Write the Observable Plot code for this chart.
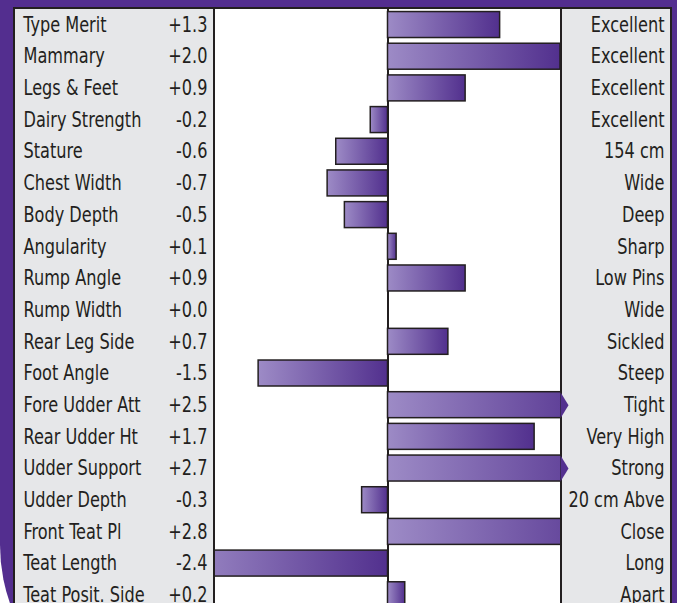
<!DOCTYPE html>
<html>
<head>
<meta charset="utf-8">
<script src="https://cdn.jsdelivr.net/npm/d3@7"></script>
<script src="https://cdn.jsdelivr.net/npm/@observablehq/plot@0.6"></script>
<style>
  html, body { margin: 0; padding: 0; background: #fff; }
  #wrap { position: relative; width: 677px; height: 603px; overflow: hidden; background: #fff; }
  .abs { position: absolute; box-sizing: border-box; }
  #purple { left: 0; top: 0; width: 677px; height: 720px; background: #532e8f; border-bottom-left-radius: 175px; }
  #panel { left: 13px; top: 7px; width: 659px; height: 700px; background: #e6e7e9; border: 2px solid #231f20; }
  #white { left: 213px; top: 7px; width: 349px; height: 700px; background: #fff; border-left: 2px solid #231f20; border-right: 2px solid #231f20; border-top: 2px solid #231f20; }
  #chart { left: 0; top: 0; }
</style>
</head>
<body>
<div id="wrap">
  <div id="purple" class="abs"></div>
  <div id="panel" class="abs"></div>
  <div id="white" class="abs"></div>
  <div id="chart" class="abs"></div>
</div>
<script>
const traits = ["Type Merit","Mammary","Legs & Feet","Dairy Strength","Stature","Chest Width","Body Depth","Angularity","Rump Angle","Rump Width","Rear Leg Side","Foot Angle","Fore Udder Att","Rear Udder Ht","Udder Support","Udder Depth","Front Teat Pl","Teat Length","Teat Posit. Side"];
const values = [1.3, 2.0, 0.9, -0.2, -0.6, -0.7, -0.5, 0.1, 0.9, 0.0, 0.7, -1.5, 2.5, 1.7, 2.7, -0.3, 2.8, -2.4, 0.2];
const descriptors = ["Excellent","Excellent","Excellent","Excellent","154 cm","Wide","Deep","Sharp","Low Pins","Wide","Sickled","Steep","Tight","Very High","Strong","20 cm Abve","Close","Long","Apart"];
const arrowTraits = ["Fore Udder Att", "Udder Support"];
const xDomain = [-2, 2];

const rows = traits.map((t, i) => ({trait: t, value: values[i], desc: descriptors[i]}));
const fmt = v => (v >= 0 ? "+" : "") + v.toFixed(1);

const font = "'DejaVu Sans Condensed', 'Liberation Sans Narrow', sans-serif";
const ink = "#231f20";

const defsMark = () => {
  const ns = "http://www.w3.org/2000/svg";
  const defs = document.createElementNS(ns, "defs");
  defs.innerHTML = '<linearGradient id="barGrad" x1="0" x2="1" y1="0" y2="0">' +
    '<stop offset="0" stop-color="#9d8bc6"/><stop offset="1" stop-color="#52308e"/></linearGradient>';
  return defs;
};

const arrowSymbol = {
  draw(ctx) {
    ctx.moveTo(0, -13);
    ctx.lineTo(8, 0);
    ctx.lineTo(0, 13);
    ctx.closePath();
  }
};

const plot = Plot.plot({
  width: 677,
  height: 603,
  marginLeft: 215,
  marginRight: 117,
  marginTop: 7,
  marginBottom: 0,
  style: {background: "transparent", overflow: "hidden", fontFamily: font},
  x: {domain: xDomain, axis: null},
  y: {type: "band", domain: traits, range: [8.7, 610.6], paddingInner: 0.18, paddingOuter: 0.09, round: false, axis: null},
  marks: [
    defsMark,
    Plot.ruleX([0], {stroke: ink, strokeWidth: 2}),
    Plot.barX(rows, {x: "value", y: "trait", fill: "url(#barGrad)", stroke: ink, strokeWidth: 1.5, clip: "frame"}),
    Plot.dot(rows.filter(d => arrowTraits.includes(d.trait)), {
      x: d => Math.min(d.value, xDomain[1]), y: "trait",
      symbol: arrowSymbol, fill: "#53308f", stroke: "none"
    }),
    Plot.text(rows, {y: "trait", text: "trait", frameAnchor: "left", dx: -192, textAnchor: "start", fontSize: 21, fill: ink, fontFamily: font}),
    Plot.text(rows, {y: "trait", text: d => fmt(d.value), frameAnchor: "left", dx: -8, textAnchor: "end", fontSize: 21, fill: ink, fontFamily: font}),
    Plot.text(rows, {y: "trait", text: "desc", frameAnchor: "right", dx: 104, textAnchor: "end", fontSize: 21, fill: ink, fontFamily: font})
  ]
});
document.getElementById("chart").appendChild(plot);

// narrow the glyphs horizontally about each text's anchor point (condensed look)
const S = 0.855;
plot.querySelectorAll("text").forEach(el => {
  const b = el.getBBox();
  const anchor = getComputedStyle(el).textAnchor;
  const X = anchor === "end" ? b.x + b.width : anchor === "middle" ? b.x + b.width / 2 : b.x;
  const t = el.getAttribute("transform") || "";
  el.setAttribute("transform", `${t} translate(${X},0) scale(${S},1) translate(${-X},0)`);
});
</script>
</body>
</html>
